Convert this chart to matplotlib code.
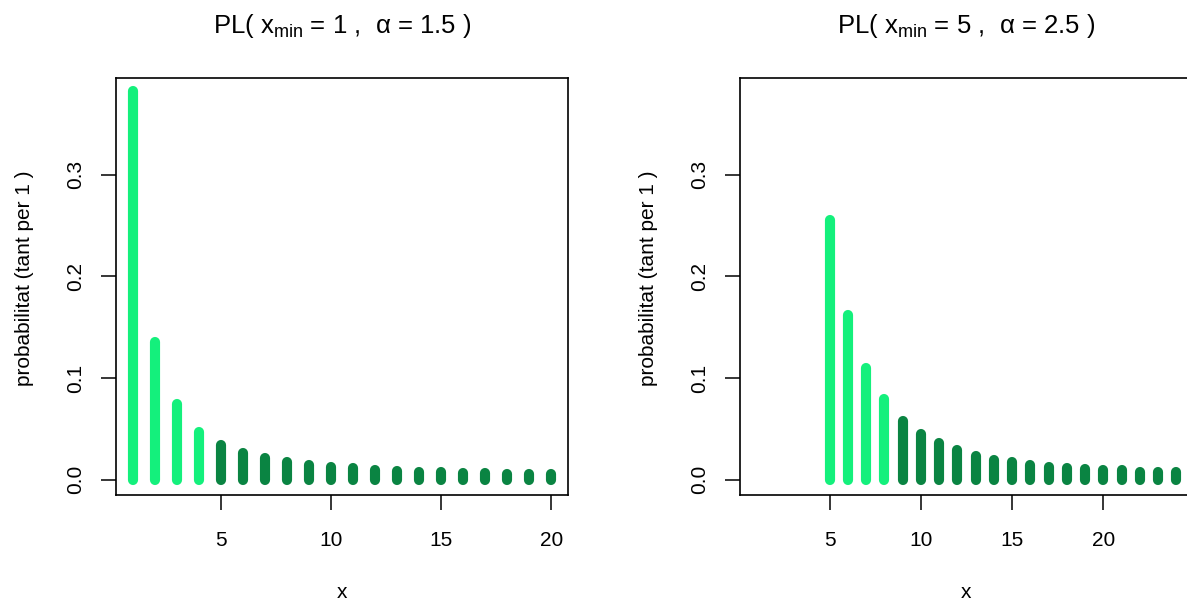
import matplotlib
matplotlib.use("Agg")
import matplotlib.pyplot as plt

plt.rcParams['font.family'] = ['Liberation Sans', 'DejaVu Sans']
plt.rcParams['mathtext.fontset'] = 'custom'
plt.rcParams['mathtext.rm'] = 'Liberation Sans'
plt.rcParams['mathtext.it'] = 'Liberation Sans'
plt.rcParams['mathtext.sf'] = 'Liberation Sans'
plt.rcParams['mathtext.bf'] = 'Liberation Sans:bold'

# ---- data ----
x_left = list(range(1, 21))
p_left = [0.382, 0.135, 0.074, 0.047, 0.034, 0.026, 0.021, 0.017, 0.014, 0.012,
          0.011, 0.009, 0.008, 0.007, 0.007, 0.006, 0.006, 0.005, 0.005, 0.005]
x_right = list(range(5, 25))
p_right = [0.255, 0.162, 0.110, 0.079, 0.058, 0.045, 0.036, 0.029, 0.023, 0.019,
           0.017, 0.014, 0.012, 0.011, 0.010, 0.009, 0.009, 0.007, 0.007, 0.007]
n_light = 4
titles = [r"PL( $x_{min}$ = 1 ,  α = 1.5 )", r"PL( $x_{min}$ = 5 ,  α = 2.5 )"]
xlims = [(1, 20), (1, 24)]
ylim = (0, 0.38)
xticks = [5, 10, 15, 20]
yticks = [0.0, 0.1, 0.2, 0.3]
ytick_labels = ["0.0", "0.1", "0.2", "0.3"]
xlabel = "x"
ylabel = "probabilitat (tant per 1 )"

LIGHT = "#14F07C"
DARK = "#0A8442"

W, H = 1187, 610
fig = plt.figure(figsize=(W / 100, H / 100), dpi=100)

boxes = [(116, 78, 452, 417), (740, 78, 453, 417)]
series = [(x_left, p_left), (x_right, p_right)]

for (bx, by, bw, bh), (xs, ps), title, xl in zip(boxes, series, titles, xlims):
    ax = fig.add_axes([bx / W, 1 - (by + bh) / H, bw / W, bh / H])
    cols = [LIGHT if i < n_light else DARK for i in range(len(xs))]
    lc = ax.vlines(xs, 0, ps, colors=cols, linewidth=7.3)
    lc.set_capstyle('round')
    ext = 0.04 * (xl[1] - xl[0])
    ax.set_xlim(xl[0] - ext, xl[1] + ext)
    yext = 0.04 * (ylim[1] - ylim[0])
    ax.set_ylim(ylim[0] - yext, ylim[1] + yext)
    ax.set_xticks(xticks)
    ax.set_xticklabels([str(t) for t in xticks])
    ax.set_yticks(yticks)
    ax.set_yticklabels(ytick_labels, rotation=90, va='center')
    ax.tick_params(axis='both', direction='out', length=11, width=1.1,
                   labelsize=15, colors='black')
    ax.tick_params(axis='x', pad=15)
    ax.tick_params(axis='y', pad=11)
    for s in ax.spines.values():
        s.set_linewidth(1.2)
        s.set_color('black')
    ax.text(0.5, (495 - 33) / bh, title,
            transform=ax.transAxes, ha='center', va='baseline', fontsize=18.5)
    ax.text(0.5, -(593 - 495) / bh, xlabel, transform=ax.transAxes,
            ha='center', va='center', fontsize=15)
    ax.text(-91 / bw, 0.52, ylabel, transform=ax.transAxes, rotation=90,
            ha='center', va='center', fontsize=15)

fig.savefig("out.png", dpi=100)
